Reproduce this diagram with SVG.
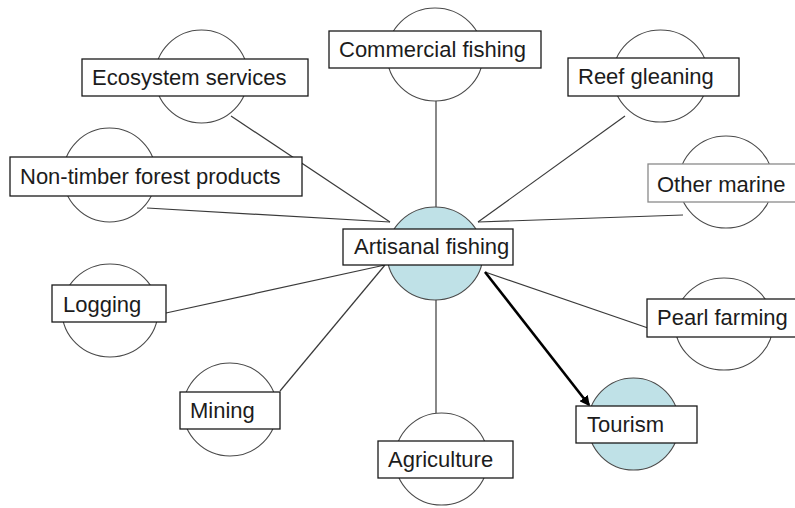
<svg xmlns="http://www.w3.org/2000/svg" width="795" height="508" viewBox="0 0 795 508">
  <style>
    .bg { fill: #ffffff; }
    .circ { fill: #ffffff; stroke: #4a4a4a; stroke-width: 1.1; }
    .circ.hl { fill: #bfe1e7; }
    .box { fill: #ffffff; stroke: #1a1a1a; stroke-width: 1.3; }
    .box.soft { stroke: #8a8a8a; }
    .lbl { font-family: "Liberation Sans", Arial, sans-serif; font-size: 22px; fill: #1c1c1c; }
    .link { stroke: #3a3a3a; stroke-width: 1.2; fill: none; }
    .link.strong { stroke: #000000; stroke-width: 2.6; }
  </style>
  <defs>
    <marker id="arrowhead" markerWidth="4" markerHeight="4" refX="3.4" refY="2" orient="auto" markerUnits="strokeWidth">
      <path d="M0,0 L4,2 L0,4 Z" fill="#000000"/>
    </marker>
  </defs>
  <rect class="bg" x="0" y="0" width="795" height="508"/>

  <!-- connectors to the central node -->
  <g id="connectors">
    <line class="link" x1="436" y1="101" x2="436" y2="207"/>
    <line class="link" x1="436" y1="300" x2="436" y2="413"/>
    <line class="link" x1="231" y1="116" x2="390" y2="222"/>
    <line class="link" x1="147" y1="208" x2="390" y2="222"/>
    <line class="link" x1="166" y1="313" x2="385" y2="265"/>
    <line class="link" x1="280" y1="391" x2="385" y2="265"/>
    <line class="link" x1="625" y1="116" x2="478" y2="222"/>
    <line class="link" x1="683" y1="215" x2="478" y2="222"/>
    <line class="link" x1="648" y1="328" x2="485" y2="272"/>
    <line class="link strong" x1="485" y1="272" x2="589" y2="405" marker-end="url(#arrowhead)"/>
  </g>

  <g id="node-artisanal">
    <ellipse class="circ hl" cx="435" cy="253.5" rx="48" ry="46.5"/>
    <rect class="box" x="343" y="229" width="170" height="36"/>
    <text class="lbl" x="354" y="254">Artisanal fishing</text>
  </g>

  <g id="node-commercial">
    <ellipse class="circ" cx="435" cy="54.5" rx="48" ry="46.5"/>
    <rect class="box" x="329" y="31" width="212" height="37"/>
    <text class="lbl" x="339" y="57">Commercial fishing</text>
  </g>

  <g id="node-ecosystem">
    <ellipse class="circ" cx="201.5" cy="76.5" rx="46.5" ry="46.5"/>
    <rect class="box" x="82" y="59" width="226" height="37"/>
    <text class="lbl" x="92" y="85">Ecosystem services</text>
  </g>

  <g id="node-reef">
    <ellipse class="circ" cx="660.5" cy="76" rx="47.5" ry="46"/>
    <rect class="box" x="568" y="58" width="171" height="38"/>
    <text class="lbl" x="578" y="84">Reef gleaning</text>
  </g>

  <g id="node-nontimber">
    <ellipse class="circ" cx="109.5" cy="175" rx="46.5" ry="47"/>
    <rect class="box" x="10" y="157" width="292" height="39"/>
    <text class="lbl" x="20" y="184">Non-timber forest products</text>
  </g>

  <g id="node-othermarine">
    <ellipse class="circ" cx="726" cy="182" rx="47" ry="46"/>
    <rect class="box soft" x="648" y="164" width="160" height="38"/>
    <text class="lbl" x="657" y="192">Other marine</text>
  </g>

  <g id="node-logging">
    <ellipse class="circ" cx="110" cy="310.5" rx="48" ry="46.5"/>
    <rect class="box" x="52" y="285" width="114" height="37"/>
    <text class="lbl" x="63" y="312">Logging</text>
  </g>

  <g id="node-pearl">
    <ellipse class="circ" cx="724" cy="324" rx="49" ry="46"/>
    <rect class="box" x="647" y="299" width="160" height="38"/>
    <text class="lbl" x="657" y="325">Pearl farming</text>
  </g>

  <g id="node-mining">
    <ellipse class="circ" cx="230" cy="409.5" rx="47" ry="46.5"/>
    <rect class="box" x="180" y="392" width="100" height="37"/>
    <text class="lbl" x="190" y="418">Mining</text>
  </g>

  <g id="node-tourism">
    <ellipse class="circ hl" cx="633.5" cy="424" rx="45.5" ry="46"/>
    <rect class="box" x="576" y="406" width="121" height="37"/>
    <text class="lbl" x="587" y="432">Tourism</text>
  </g>

  <g id="node-agriculture">
    <ellipse class="circ" cx="441.5" cy="459" rx="46.5" ry="46"/>
    <rect class="box" x="378" y="441" width="135" height="37"/>
    <text class="lbl" x="388" y="467">Agriculture</text>
  </g>
</svg>
